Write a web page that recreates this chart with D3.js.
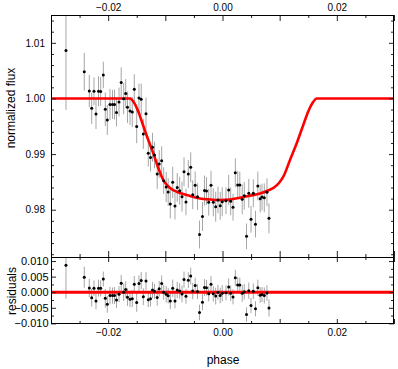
<!DOCTYPE html>
<html>
<head>
<meta charset="utf-8">
<script src="https://cdn.jsdelivr.net/npm/d3@7"></script>
<style>
  body { margin: 0; background: #fff; }
  svg { display: block; font-family: 'Liberation Sans', Arial, sans-serif; }
  .eje path { display: none; }
  .eje line { stroke: #222; }
  .eje text { fill: #000; font-size: 10px; }
  .eje.res text { font-size: 11px; }
  .titulo { font-size: 12px; fill: #000; }
</style>
</head>
<body>
<div id="graf"></div>
<script>
// I. Datos
fase = [-0.02738, -0.02418, -0.0233, -0.02288, -0.02248, -0.02213, -0.02169, -0.02131, -0.02085, -0.0205,
        -0.02015, -0.01968, -0.01924, -0.01889, -0.01854, -0.0181, -0.01772, -0.01728, -0.01693, -0.01662,
        -0.01618, -0.01578, -0.01543, -0.01501, -0.01461, -0.01422, -0.01385, -0.01338, -0.01298, -0.01259,
        -0.01224, -0.0119, -0.01142, -0.01107, -0.01064, -0.01029, -0.00985, -0.0095, -0.00913, -0.00871,
        -0.00831, -0.00792, -0.00749, -0.00708, -0.00673, -0.00639, -0.00598, -0.00556, -0.00521, -0.00478,
        -0.00437, -0.00402, -0.0035, -0.00315, -0.0028, -0.00241, -0.00201, -0.00161, -0.00119, -0.00079,
        -0.0004, -0.00005, 0.00061, 0.00108, 0.00143, 0.00184, 0.00224, 0.00266, 0.00303, 0.00345,
        0.00381, 0.0042, 0.0046, 0.00499, 0.00539, 0.00577, 0.00618, 0.00659, 0.00691, 0.00731,
        0.00778, 0.00813]

flujo = [1.00862, 1.00481, 1.00134, 0.99823, 1.00129, 0.99721, 1.00129, 1.00125, 1.00422, 0.99805,
         0.99613, 0.99891, 0.99891, 0.99891, 0.99748, 0.99936, 1.00287, 0.99996, 1.00089, 0.99841,
         0.99774, 0.99757, 1.00165, 0.99496, 1.00008, 0.99987, 0.99361, 0.99726, 0.99014, 0.98939,
         0.99122, 0.98984, 0.98642, 0.98822, 0.98881, 0.98522, 0.98408, 0.98318, 0.98103, 0.98493,
         0.98067, 0.98399, 0.98342, 0.98234, 0.98683, 0.98139, 0.98642, 0.98762, 0.9827, 0.98439,
         0.98234, 0.97554, 0.97878, 0.98345, 0.98336, 0.98133, 0.98441, 0.98133, 0.98054, 0.98175,
         0.9807, 0.98144, 0.98162, 0.98354, 0.98151, 0.98043, 0.98664, 0.98444, 0.98444, 0.98187,
         0.9825, 0.97522, 0.98295, 0.97828, 0.98295, 0.9774, 0.98426, 0.98198, 0.98229, 0.98214,
         0.98313, 0.97846]

errores = [0.0107, 0.0034, 0.0029, 0.0028, 0.0025, 0.0027, 0.0027, 0.0026, 0.0024, 0.003,
           0.0027, 0.0028, 0.0026, 0.0027, 0.0025, 0.0026, 0.0027, 0.0028, 0.0026, 0.0028,
           0.0025, 0.0027, 0.0027, 0.003, 0.0026, 0.0028, 0.0027, 0.0029, 0.0024, 0.0025,
           0.0026, 0.0024, 0.0027, 0.0025, 0.0026, 0.0024, 0.0027, 0.0025, 0.0026, 0.0028,
           0.0024, 0.0026, 0.0025, 0.0027, 0.0026, 0.0024, 0.0025, 0.0027, 0.0026, 0.0025,
           0.0024, 0.0025, 0.0026, 0.0027, 0.0025, 0.0024, 0.0026, 0.0025, 0.0027, 0.0024,
           0.0025, 0.0026, 0.0024, 0.0027, 0.0025, 0.0024, 0.0026, 0.0025, 0.0024, 0.0027,
           0.0025, 0.0023, 0.0026, 0.0024, 0.0025, 0.0024, 0.0026, 0.0025, 0.0024, 0.0026,
           0.0025, 0.0027]

// curva del modelo (puntos de control)
modeloFase = [-0.03, -0.01618, -0.0156, -0.01473, -0.01391, -0.01298, -0.0121, -0.01123, -0.01036, -0.00918,
              -0.00743, -0.00569, -0.00394, -0.00219, -0.00044, 0.00131, 0.00306, 0.00481, 0.00656, 0.00796,
              0.00901, 0.00988, 0.01064, 0.01181, 0.01298, 0.01413, 0.01496, 0.01571, 0.01648, 0.03]
modeloFlujo = [1.0, 1.0, 0.99946, 0.99766, 0.99523, 0.99253, 0.99014, 0.9875, 0.98534, 0.9839,
               0.983, 0.98247, 0.98202, 0.98184, 0.98175, 0.98184, 0.98216, 0.98252, 0.98291, 0.98345,
               0.98399, 0.9848, 0.98593, 0.98894, 0.99194, 0.99523, 0.99757, 0.99913, 1.0, 1.0]

ticksX = [-0.02, 0.00, 0.02]
ticksXMayor = [-0.03, -0.02, -0.01, 0, 0.01, 0.02, 0.03]
ticksXMenor = [-0.025, -0.015, -0.005, 0.005, 0.015, 0.025]
ticksFlujo = [0.98, 0.99, 1.00, 1.01]
ticksFlujoMenor = [0.972, 0.974, 0.976, 0.978, 0.982, 0.984, 0.986, 0.988, 0.992, 0.994, 0.996, 0.998,
                   1.002, 1.004, 1.006, 1.008, 1.012, 1.014]
ticksRes = [-0.010, -0.005, 0.000, 0.005, 0.010]
ticksResMenor = [-0.0075, -0.0025, 0.0025, 0.0075]

// II. Configuracion
ancho_total = 398
alto_total = 369
izq = 51
der = 394
arriba = 15
medio = 257
abajo = 324

svg = d3.select('#graf').append('svg')
        .attr('width', ancho_total)
        .attr('height', alto_total)

x = d3.scaleLinear().domain([-0.03, 0.03]).range([izq, der])
y = d3.scaleLinear().domain([0.9715, 1.015]).range([medio, arriba])
yr = d3.scaleLinear().domain([-0.0102, 0.0113]).range([abajo, medio])

datos = fase.map((p, i) => ({ fase: p, flujo: flujo[i], err: errores[i] }))
modelo = modeloFase.map((p, i) => ({ fase: p, flujo: modeloFlujo[i] }))

// residuo = flujo - modelo (modelo interpolado entre sus puntos de control)
interpModelo = p => {
  i = d3.bisectRight(modeloFase, p) - 1
  i = Math.max(0, Math.min(i, modeloFase.length - 2))
  t = (p - modeloFase[i]) / (modeloFase[i + 1] - modeloFase[i])
  return modeloFlujo[i] + t * (modeloFlujo[i + 1] - modeloFlujo[i])
}
datos.forEach(d => { d.res = d.flujo - interpModelo(d.fase) })

// clips
defs = svg.append('defs')
defs.append('clipPath').attr('id', 'clipA')
    .append('rect').attr('x', izq).attr('y', arriba).attr('width', der - izq).attr('height', medio - arriba)
defs.append('clipPath').attr('id', 'clipB')
    .append('rect').attr('x', izq).attr('y', medio).attr('width', der - izq).attr('height', abajo - medio)

colorBarra = '#a6a6a6'

// III. Panel superior
gA = svg.append('g').attr('clip-path', 'url(#clipA)')

gA.selectAll('line.barra')
  .data(datos)
  .enter().append('line')
    .attr('class', 'barra')
    .attr('x1', d => x(d.fase)).attr('x2', d => x(d.fase))
    .attr('y1', d => y(d.flujo - d.err)).attr('y2', d => y(d.flujo + d.err))
    .style('stroke', colorBarra).style('stroke-width', 1)

linea = d3.line().x(d => x(d.fase)).y(d => y(d.flujo)).curve(d3.curveMonotoneX)
gA.append('path')
  .datum(modelo)
  .attr('d', linea)
  .style('fill', 'none').style('stroke', '#ff0000').style('stroke-width', 2.6)

gA.selectAll('circle')
  .data(datos)
  .enter().append('circle')
    .attr('cx', d => x(d.fase)).attr('cy', d => y(d.flujo)).attr('r', 1.5)
    .style('fill', '#000')

// IV. Panel de residuos
gB = svg.append('g').attr('clip-path', 'url(#clipB)')

gB.selectAll('line.barra')
  .data(datos)
  .enter().append('line')
    .attr('class', 'barra')
    .attr('x1', d => x(d.fase)).attr('x2', d => x(d.fase))
    .attr('y1', d => yr(d.res - d.err)).attr('y2', d => yr(d.res + d.err))
    .style('stroke', colorBarra).style('stroke-width', 1)

gB.append('line')
  .attr('x1', izq).attr('x2', der)
  .attr('y1', yr(0)).attr('y2', yr(0))
  .style('stroke', '#ff0000').style('stroke-width', 3)

gB.selectAll('circle')
  .data(datos)
  .enter().append('circle')
    .attr('cx', d => x(d.fase)).attr('cy', d => yr(d.res)).attr('r', 1.5)
    .style('fill', '#000')

// V. Ejes (ticks hacia adentro)
fmtX = d => d3.format('.2f')(d).replace('-', '\u2212')
fmtR = d => d3.format('.3f')(d).replace('-', '\u2212')

function eje(gen, tx, ty) {
  return svg.append('g').attr('class', 'eje')
            .attr('transform', `translate(${tx}, ${ty})`)
            .call(gen)
}

// superior
eje(d3.axisTop(x).tickValues(ticksX).tickFormat(fmtX).tickSize(0).tickPadding(4.5), 0, arriba)
eje(d3.axisTop(x).tickValues(ticksXMayor).tickFormat('').tickSize(-6), 0, arriba)
eje(d3.axisTop(x).tickValues(ticksXMenor).tickFormat('').tickSize(-3), 0, arriba)
// inferior del panel superior
eje(d3.axisBottom(x).tickValues(ticksXMayor).tickFormat('').tickSize(-6), 0, medio)
eje(d3.axisBottom(x).tickValues(ticksXMenor).tickFormat('').tickSize(-3), 0, medio)
// superior del panel de residuos
eje(d3.axisTop(x).tickValues(ticksXMayor).tickFormat('').tickSize(-5), 0, medio)
eje(d3.axisTop(x).tickValues(ticksXMenor).tickFormat('').tickSize(-3), 0, medio)
// inferior
eje(d3.axisBottom(x).tickValues(ticksX).tickFormat(fmtX).tickSize(0).tickPadding(4.5), 0, abajo)
eje(d3.axisBottom(x).tickValues(ticksXMayor).tickFormat('').tickSize(-5), 0, abajo)
eje(d3.axisBottom(x).tickValues(ticksXMenor).tickFormat('').tickSize(-3), 0, abajo)

// flujo
eje(d3.axisLeft(y).tickValues(ticksFlujo).tickFormat(d3.format('.2f')).tickSize(-5).tickPadding(6), izq, 0)
eje(d3.axisLeft(y).tickValues(ticksFlujoMenor).tickFormat('').tickSize(-3), izq, 0)
eje(d3.axisRight(y).tickValues(ticksFlujo).tickFormat('').tickSize(-5), der, 0)
eje(d3.axisRight(y).tickValues(ticksFlujoMenor).tickFormat('').tickSize(-3), der, 0)

// residuos
eje(d3.axisLeft(yr).tickValues(ticksRes).tickFormat(fmtR).tickSize(-5).tickPadding(2.5), izq, 0)
  .classed('res', true)
eje(d3.axisLeft(yr).tickValues(ticksResMenor).tickFormat('').tickSize(-3), izq, 0)
eje(d3.axisRight(yr).tickValues(ticksRes).tickFormat('').tickSize(-5), der, 0)
eje(d3.axisRight(yr).tickValues(ticksResMenor).tickFormat('').tickSize(-3), der, 0)

// marcos
svg.append('rect')
   .attr('x', izq + 0.5).attr('y', arriba + 0.5)
   .attr('width', der - izq - 1).attr('height', abajo - arriba - 1)
   .style('fill', 'none').style('stroke', '#000').style('stroke-width', 1)
svg.append('line')
   .attr('x1', izq).attr('x2', der).attr('y1', medio + 0.5).attr('y2', medio + 0.5)
   .style('stroke', '#000').style('stroke-width', 1)

// titulos
svg.append('text').attr('class', 'titulo')
   .attr('transform', 'translate(15, 108) rotate(-90)')
   .attr('text-anchor', 'middle')
   .text('normalized flux')
svg.append('text').attr('class', 'titulo')
   .attr('transform', 'translate(16, 291) rotate(-90)')
   .attr('text-anchor', 'middle')
   .text('residuals')
svg.append('text').attr('class', 'titulo')
   .attr('x', 223).attr('y', 364)
   .attr('text-anchor', 'middle')
   .text('phase')
</script>
</body>
</html>
